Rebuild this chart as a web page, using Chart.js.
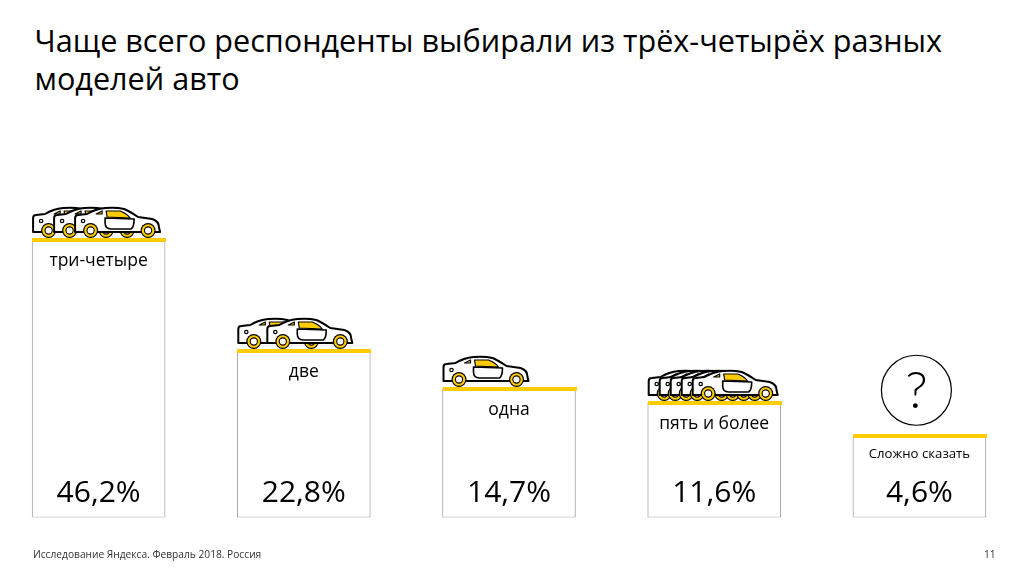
<!DOCTYPE html>
<html lang="ru">
<head>
<meta charset="utf-8">
<title>Модели авто</title>
<script src="https://cdnjs.cloudflare.com/ajax/libs/Chart.js/4.4.0/chart.umd.min.js"></script>
<style>
    html, body { margin: 0; padding: 0; background: #fff; overflow: hidden; }
    body { width: 1026px; height: 575px; position: relative; font-family: "Open Sans", sans-serif; color: #000; }
    #wrap { position: absolute; left: -4px; top: 0; width: 1026px; height: 575px; }
    h1 { position: absolute; left: 34.5px; top: 21px; margin: 0; font-size: 30.6px; line-height: 38px; font-weight: 400; width: 960px; }
    .foot { position: absolute; top: 547px; font-size: 10.2px; line-height: 14px; color: #333; }
</style>
</head>
<body>
<h1>Чаще всего респонденты выбирали из трёх-четырёх разных<br>моделей авто</h1>
<div id="wrap"><canvas id="chart"></canvas></div>
<div class="foot" style="left:33px">Исследование Яндекса. Февраль 2018. Россия</div>
<div class="foot" style="left:984px">11</div>
<script>
const categories = ["три-четыре", "две", "одна", "пять и более", "Сложно сказать"];
const shares = [46.2, 22.8, 14.7, 11.6, 4.6];
const shareLabels = ["46,2%", "22,8%", "14,7%", "11,6%", "4,6%"];
const carCounts = [3, 2, 1, 5, 0];
const carShifts = [21, 29, 0, 11, 0];

const YELLOW = "#ffcc00";
const AXIS_MIN = -12.66;  // столбцы в макете начинаются не от нуля

// одна машинка, (0,0) - левый край на уровне верха столбца
function drawCar(ctx) {
    ctx.lineWidth = 2;
    ctx.strokeStyle = "#000";
    ctx.lineJoin = "round";

    ctx.beginPath();
    ctx.moveTo(1, -7);
    ctx.lineTo(1, -21);
    ctx.quadraticCurveTo(1, -24, 4, -24);
    ctx.lineTo(13, -25);
    ctx.quadraticCurveTo(21, -30, 31, -31);
    ctx.quadraticCurveTo(42, -32, 50, -30);
    ctx.quadraticCurveTo(55, -28, 64, -22);
    ctx.lineTo(78, -20);
    ctx.quadraticCurveTo(85, -18, 85, -11);
    ctx.lineTo(86, -7);
    ctx.lineTo(1, -7);
    ctx.closePath();
    ctx.fillStyle = "#fff";
    ctx.fill();
    ctx.stroke();

    // окна
    ctx.fillStyle = YELLOW;
    ctx.beginPath();
    ctx.moveTo(32, -28);
    ctx.lineTo(46, -28);
    ctx.quadraticCurveTo(52, -26, 56, -21);
    ctx.lineTo(33, -22);
    ctx.closePath();
    ctx.fill();
    ctx.lineWidth = 1.2;
    ctx.stroke();

    ctx.beginPath();
    ctx.moveTo(22, -25);
    ctx.lineTo(28, -28);
    ctx.lineTo(28, -25);
    ctx.closePath();
    ctx.fill();
    ctx.stroke();

    // дверь
    ctx.lineWidth = 1.6;
    ctx.beginPath();
    ctx.moveTo(31, -21);
    ctx.lineTo(60, -20);
    ctx.quadraticCurveTo(60, -12, 57, -10);
    ctx.lineTo(37, -10);
    ctx.quadraticCurveTo(31, -10, 31, -16);
    ctx.closePath();
    ctx.stroke();

    ctx.lineWidth = 1.2;
    ctx.beginPath();
    ctx.arc(9, -18, 1.7, 0, Math.PI * 2);
    ctx.stroke();

    [16.5, 74].forEach(x => {
        ctx.beginPath();
        ctx.arc(x, -8.5, 7.5, 0, Math.PI * 2);
        ctx.fillStyle = "#000";
        ctx.fill();
        ctx.beginPath();
        ctx.arc(x, -8.5, 6.3, 0, Math.PI * 2);
        ctx.fillStyle = YELLOW;
        ctx.fill();
        ctx.beginPath();
        ctx.arc(x, -8.5, 3.6, 0, Math.PI * 2);
        ctx.fillStyle = "#fff";
        ctx.fill();
        ctx.lineWidth = 1.1;
        ctx.stroke();
    });
}

const cardsPlugin = {
    id: "cards",
    afterDatasetsDraw(chart) {
        const ctx = chart.ctx;
        const bottom = chart.scales.y.getPixelForValue(AXIS_MIN);
        chart.getDatasetMeta(0).data.forEach((bar, i) => {
            const left = bar.x - bar.width / 2;
            ctx.save();

            ctx.fillStyle = YELLOW;
            ctx.fillRect(Math.round(left), Math.round(bar.y) - 2, 134, 4);

            // иконки над столбцом
            for (let c = 0; c < carCounts[i]; c++) {
                ctx.save();
                ctx.translate(left + c * carShifts[i], Math.round(bar.y) - 1);
                drawCar(ctx);
                ctx.restore();
            }
            if (carCounts[i] === 0) {
                ctx.beginPath();
                ctx.arc(bar.x - 3, bar.y - 46, 35, 0, Math.PI * 2);
                ctx.strokeStyle = "#000";
                ctx.lineWidth = 1.2;
                ctx.stroke();
                ctx.fillStyle = "#000";
                ctx.font = "300 52px Lato, sans-serif";
                ctx.textAlign = "center";
                ctx.textBaseline = "middle";
                ctx.fillText("?", bar.x - 3, bar.y - 45);
            }

            ctx.fillStyle = "#000";
            ctx.textAlign = "center";
            ctx.textBaseline = "middle";
            const small = categories[i].length > 12;
            ctx.font = (small ? "13.2px" : "17.5px") + ' "Open Sans", sans-serif';
            ctx.fillText(categories[i], bar.x, bar.y + (small ? 18 : 21));
            ctx.font = '30px "Open Sans", sans-serif';
            ctx.fillText(shareLabels[i], bar.x, bottom - 24);
            ctx.restore();
        });
    }
};

new Chart(document.getElementById("chart"), {
    type: "bar",
    data: {
        labels: categories,
        datasets: [{
            data: shares,
            base: AXIS_MIN,
            backgroundColor: "#fff",
            borderColor: "#a8a8a8",
            borderWidth: 1,
            borderSkipped: false,
            barThickness: 133,
        }],
    },
    options: {
        responsive: true,
        maintainAspectRatio: false,
        animation: false,
        layout: { padding: { top: 200, bottom: 57.5, left: 0, right: 0 } },
        scales: {
            x: { display: false },
            y: { display: false, min: AXIS_MIN, max: 54.8 },
        },
        plugins: {
            legend: { display: false },
            tooltip: { enabled: false },
        },
    },
    plugins: [cardsPlugin],
});
</script>
</body>
</html>
